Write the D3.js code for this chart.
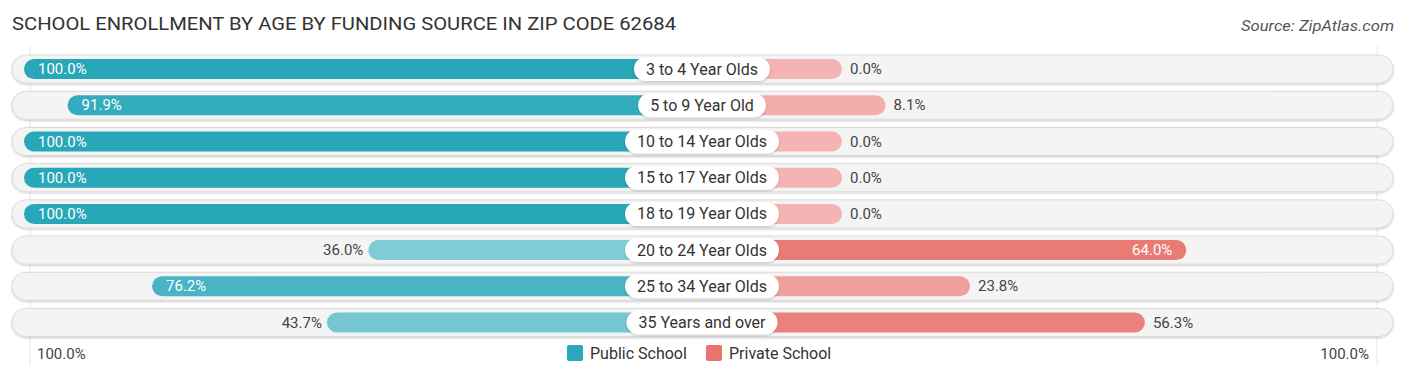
<!DOCTYPE html>
<html>
<head>
<meta charset="utf-8">
<script src="https://cdn.jsdelivr.net/npm/d3@7"></script>
<style>
  body { margin: 0; background: #fff; font-family: Roboto, "Noto Sans", sans-serif; }
</style>
</head>
<body>
<div id="chart"></div>
<script>
// data
const ages = ["3 to 4 Year Olds", "5 to 9 Year Old", "10 to 14 Year Olds", "15 to 17 Year Olds",
              "18 to 19 Year Olds", "20 to 24 Year Olds", "25 to 34 Year Olds", "35 Years and over"];
const publicPct = [100.0, 91.9, 100.0, 100.0, 100.0, 36.0, 76.2, 43.7];
const privatePct = [0.0, 8.1, 0.0, 0.0, 0.0, 64.0, 23.8, 56.3];
const seriesNames = ["Public School", "Private School"];
const axisLabels = ["100.0%", "100.0%"];

const WD = 1406, HT = 378;
const cx = 702;       // centre of the label pills
const gap = 140;      // space taken by the label in the middle
const rowTop = 51, rowStep = 36.2;

const svg = d3.select("#chart").append("svg")
  .attr("width", WD).attr("height", HT);

const defs = svg.append("defs");
const f = defs.append("filter").attr("id", "sh").attr("x", "-5%").attr("y", "-30%")
  .attr("width", "110%").attr("height", "160%");
f.append("feDropShadow").attr("dx", 0).attr("dy", 1).attr("stdDeviation", 1.2)
  .attr("flood-color", "#000").attr("flood-opacity", 0.22);

// title + source
svg.append("text").attr("x", 12).attr("y", 30)
  .attr("font-size", 18.5).attr("fill", "#333")
  .attr("textLength", 664).attr("lengthAdjust", "spacingAndGlyphs")
  .text("SCHOOL ENROLLMENT BY AGE BY FUNDING SOURCE IN ZIP CODE 62684");
svg.append("text").attr("x", 1241).attr("y", 31)
  .attr("font-size", 15.5).attr("font-style", "italic").attr("fill", "#555")
  .attr("textLength", 153).attr("lengthAdjust", "spacingAndGlyphs")
  .text("Source: ZipAtlas.com");

const xs = d3.scaleLinear().domain([0, 100]).range([0, 538]);
const ys = d3.scaleBand().domain(ages).range([rowTop, rowTop + rowStep * ages.length]);

const pubColor = d3.scaleLinear().domain([0, 100]).range(["#b0dfe6", "#28a7b9"]);
const privColor = d3.scaleLinear().domain([0, 100]).range(["#f4b4b4", "#e45a50"]);

// faint guide lines
svg.selectAll("line.guide").data([30, 1377]).enter().append("line")
  .attr("x1", d => d).attr("x2", d => d).attr("y1", 46).attr("y2", 366)
  .attr("stroke", "#e6e6e6").attr("stroke-width", 1);

const rows = svg.selectAll("g.row").data(ages).enter().append("g")
  .attr("class", "row")
  .attr("transform", d => "translate(0," + (ys(d) + ys.bandwidth() / 2) + ")");

// row background
rows.append("rect")
  .attr("x", 12).attr("y", -14).attr("width", 1381).attr("height", 28)
  .attr("rx", 14).attr("fill", "#f4f4f4").attr("stroke", "#dcdcdc").attr("stroke-width", 1)
  .attr("filter", "url(#sh)");

// public bars (to the left)
rows.append("rect")
  .attr("x", (d, i) => cx - gap - xs(publicPct[i]))
  .attr("y", -10).attr("height", 20)
  .attr("width", (d, i) => gap + xs(publicPct[i]))
  .attr("rx", 10)
  .attr("fill", (d, i) => pubColor(publicPct[i]));

// private bars (to the right)
rows.append("rect")
  .attr("x", cx)
  .attr("y", -10).attr("height", 20)
  .attr("width", (d, i) => gap + xs(privatePct[i]))
  .attr("rx", 10)
  .attr("fill", (d, i) => privColor(privatePct[i]));

// label pills
rows.each(function(d) {
  const g = d3.select(this);
  const t = g.append("text").attr("x", cx).attr("y", 5.5)
    .attr("text-anchor", "middle").attr("font-size", 16).attr("fill", "#333").text(d);
  const w = t.node().getComputedTextLength() + 24;
  g.insert("rect", "text:last-of-type")
    .attr("x", cx - w / 2).attr("y", -12).attr("width", w).attr("height", 24)
    .attr("rx", 12).attr("fill", "#fff").attr("filter", "url(#sh)");
});

// value labels
const inside = 60;
rows.append("text")
  .attr("x", (d, i) => {
    const s = cx - gap - xs(publicPct[i]);
    return publicPct[i] > inside ? s + 14 : s - 5;
  })
  .attr("y", 5)
  .attr("text-anchor", (d, i) => publicPct[i] > inside ? "start" : "end")
  .attr("font-size", 15)
  .attr("fill", (d, i) => publicPct[i] > inside ? "#fff" : "#444")
  .text((d, i) => publicPct[i].toFixed(1) + "%");

rows.append("text")
  .attr("x", (d, i) => {
    const e = cx + gap + xs(privatePct[i]);
    return privatePct[i] > inside ? e - 14 : e + 8;
  })
  .attr("y", 5)
  .attr("text-anchor", (d, i) => privatePct[i] > inside ? "end" : "start")
  .attr("font-size", 15)
  .attr("fill", (d, i) => privatePct[i] > inside ? "#fff" : "#444")
  .text((d, i) => privatePct[i].toFixed(1) + "%");

// bottom axis labels
svg.append("text").attr("x", 37).attr("y", 359).attr("font-size", 15).attr("fill", "#444").text(axisLabels[0]);
svg.append("text").attr("x", 1369).attr("y", 359).attr("text-anchor", "end")
  .attr("font-size", 15).attr("fill", "#444").text(axisLabels[1]);

// legend
const legColors = ["#2aa7b8", "#e8746c"];
const legX = [567, 706];
const leg = svg.selectAll("g.leg").data(seriesNames).enter().append("g")
  .attr("transform", (d, i) => "translate(" + legX[i] + ",345)");
leg.append("rect").attr("width", 16).attr("height", 16).attr("rx", 2)
  .attr("fill", (d, i) => legColors[i]);
leg.append("text").attr("x", 23).attr("y", 14).attr("font-size", 16).attr("fill", "#333")
  .text(d => d);
</script>
</body>
</html>
